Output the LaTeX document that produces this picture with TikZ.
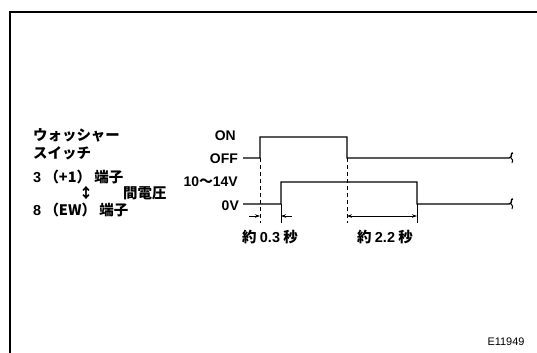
\documentclass[tikz,border=0pt]{standalone}
\usepackage{fontspec}
\setmainfont{Liberation Sans}
\newfontfamily\lat{Liberation Sans}
\newfontfamily\jp{Noto Sans CJK JP}
\usetikzlibrary{arrows.meta}
\begin{document}
\begin{tikzpicture}[x=1bp,y=-1bp,
  wave/.style={line width=1.4bp},
  dimln/.style={line width=0.8bp},
  dashln/.style={line width=0.9bp, dash pattern=on 4bp off 3bp},
  lbl/.style={font=\lat\bfseries\fontsize{14}{14}\selectfont, inner sep=0pt},
  jl/.style={font=\jp\bfseries\fontsize{14.5}{15}\selectfont, inner sep=0pt},
  tip/.style={-{Stealth[length=5bp,width=3.5bp]}}]
\useasboundingbox (0,0) rectangle (537,352);
\fill[white] (0,0) rectangle (537,352);
% frame
\draw[line width=2bp] (10,353) -- (10,12) -- (538,12);
% coordinates
\coordinate (t0) at (243,158); \coordinate (t1) at (260,158);
\coordinate (t2) at (260,137); \coordinate (t3) at (347,137);
\coordinate (t4) at (347,158); \coordinate (t5) at (509,158);
\coordinate (b0) at (243,204); \coordinate (b1) at (281,204);
\coordinate (b2) at (281,182); \coordinate (b3) at (417,182);
\coordinate (b4) at (417,204); \coordinate (b5) at (509,204);
\coordinate (d1) at (260,223); \coordinate (d2) at (347,223);
\coordinate (k1) at (281,223); \coordinate (k2) at (417,223);
\coordinate (a1) at (249,216); \coordinate (a2) at (260,216);
\coordinate (a3) at (281,216); \coordinate (a4) at (292,216);
\coordinate (a5) at (347,216); \coordinate (a6) at (417,216);
% waveforms
\draw[wave] (t0) -- (t1) -- (t2) -- (t3) -- (t4) -- (t5)
  .. controls (513,158) and (510,152) .. (513,153);
\draw[line width=1bp] (511,158) .. controls (513,160) .. (512,163);
\draw[wave] (b0) -- (b1) -- (b2) -- (b3) -- (b4) -- (b5)
  .. controls (513,204) and (510,198) .. (513,199);
\draw[line width=1bp] (511,204) .. controls (513,206) .. (512,209);
% dashed
\draw[dashln] (t1) -- (d1);
\draw[dashln] (t4) -- (d2);
% ticks
\draw[dimln] (b1) -- (k1);
\draw[dimln] (b4) -- (k2);
% dimensions
\draw[dimln,tip] (a1) -- (a2);
\draw[dimln,tip] (a4) -- (a3);
\draw[dimln,{Stealth[length=5bp,width=3.5bp]}-{Stealth[length=5bp,width=3.5bp]}] (a5) -- (a6);
% level labels
\node[lbl,anchor=east] (on) at (236,136) {ON};
\node[lbl,anchor=east] (off) at (238,159) {OFF};
\node[lbl,anchor=east] (hv) at (238,182) {10{\jp\bfseries 〜}14V};
\node[lbl,anchor=east] (zv) at (239,206) {0V};
% left labels
\node[jl,anchor=west] (w1) at (33,135) {ウォッシャー};
\node[jl,anchor=west] (w2) at (33,153) {スイッチ};
\node[jl,anchor=west] (w3) at (33,177) {{\lat\bfseries 3} （+1） 端子};
\node[jl] (ud) at (86,193) {↕};
\node[jl,anchor=west] (w4) at (123,193) {間電圧};
\node[jl,anchor=west] (w5) at (33,210) {{\lat\bfseries 8} （EW） 端子};
% durations
\node[jl] (s1) at (270,237) {約 {\lat\bfseries 0.3} 秒};
\node[jl] (s2) at (385,237) {約 {\lat\bfseries 2.2} 秒};
% id
\node[font=\lat\fontsize{11}{11}\selectfont, inner sep=0pt] (id) at (506,342) {E11949};
\end{tikzpicture}
\end{document}
